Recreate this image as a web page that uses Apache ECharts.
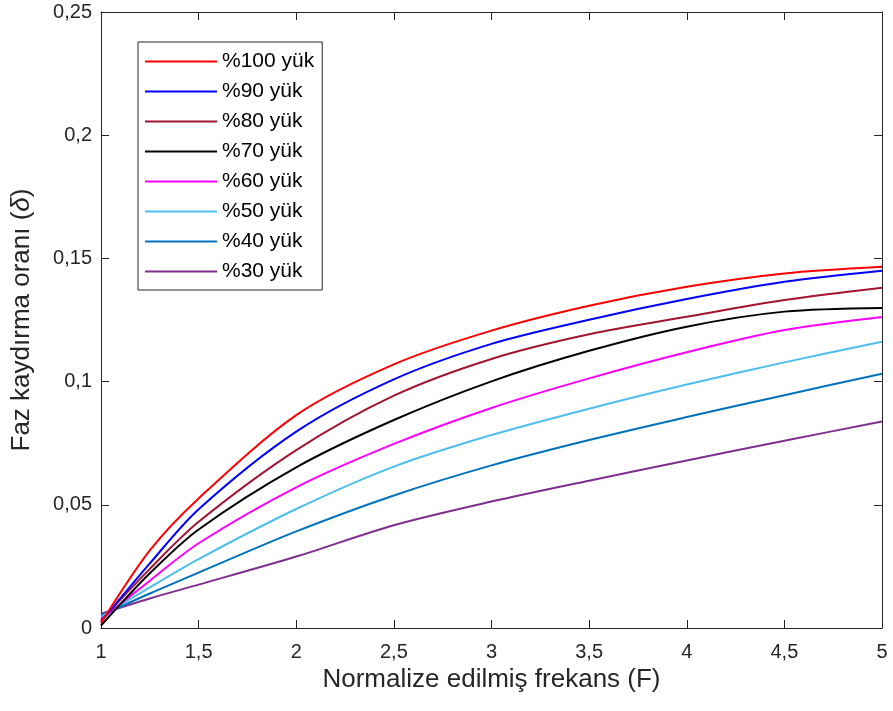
<!DOCTYPE html>
<html>
<head>
<meta charset="utf-8">
<script src="https://cdn.jsdelivr.net/npm/echarts@6/dist/echarts.min.js"></script>
<style>
  html, body { margin: 0; padding: 0; background: #fff; }
  #chart { width: 893px; height: 711px; }
</style>
</head>
<body>
<div id="chart"></div>
<script>
// Normalized frequency samples (F)
const freq = [1, 1.25, 1.5, 2, 2.5, 3, 3.5, 4, 4.5, 5];

// Phase-shift ratio (delta) for each load level
const load100 = [0.002, 0.0315, 0.0526, 0.0864, 0.1070, 0.1207, 0.1308, 0.1385, 0.1439, 0.1466];
const load90  = [0.0025, 0.0262, 0.0482, 0.0797, 0.1009, 0.1153, 0.1251, 0.1335, 0.1405, 0.1450];
const load80  = [0.003, 0.0240, 0.0431, 0.0722, 0.0943, 0.1092, 0.1192, 0.1263, 0.1331, 0.1381];
const load70  = [0.001, 0.0222, 0.0400, 0.0652, 0.0844, 0.1001, 0.1125, 0.1223, 0.1284, 0.1299];
const load60  = [0.0035, 0.0192, 0.0344, 0.0571, 0.0747, 0.0893, 0.1013, 0.1119, 0.1209, 0.1262];
const load50  = [0.0045, 0.0165, 0.0280, 0.0483, 0.0655, 0.0783, 0.0890, 0.0988, 0.1078, 0.1162];
const load40  = [0.005, 0.0140, 0.0225, 0.0392, 0.0538, 0.0660, 0.0763, 0.0856, 0.0945, 0.1032];
const load30  = [0.0058, 0.0120, 0.0176, 0.0290, 0.0417, 0.0513, 0.0598, 0.0680, 0.0760, 0.0838];

const seriesNames = ['%100 yük', '%90 yük', '%80 yük', '%70 yük', '%60 yük', '%50 yük', '%40 yük', '%30 yük'];
const seriesValues = [load100, load90, load80, load70, load60, load50, load40, load30];
const seriesColors = ['#FF0000', '#0000FF', '#A2142F', '#000000', '#FF00FF', '#4DBEEE', '#0072BD', '#7E2F8E'];

const FONT = '"Liberation Sans", Arial, sans-serif';
const AXIS_COLOR = '#262626';

const commaFmt = v => String(+v.toFixed(4)).replace('.', ',');

const chart = echarts.init(document.getElementById('chart'), null, { renderer: 'canvas' });

const series = seriesNames.map((name, i) => ({
  name: name,
  type: 'line',
  xAxisIndex: 0,
  yAxisIndex: 0,
  data: freq.map((f, j) => [f, seriesValues[i][j]]),
  smooth: 0.3,
  symbol: 'none',
  lineStyle: { color: seriesColors[i], width: 2 },
  itemStyle: { color: seriesColors[i] },
  z: 10 - i
}));

const commonX = {
  type: 'value', min: 1, max: 5, interval: 0.5,
  axisLine: { show: true, onZero: false, lineStyle: { color: AXIS_COLOR, width: 1 } },
  axisTick: { show: true, inside: true, length: 8, lineStyle: { color: AXIS_COLOR } },
  splitLine: { show: false }
};
const commonY = {
  type: 'value', min: 0, max: 0.25, interval: 0.05,
  axisLine: { show: true, onZero: false, lineStyle: { color: AXIS_COLOR, width: 1 } },
  axisTick: { show: true, inside: true, length: 8, lineStyle: { color: AXIS_COLOR } },
  splitLine: { show: false }
};

chart.setOption({
  animation: false,
  backgroundColor: '#ffffff',
  grid: { left: 101, right: 11, top: 12, bottom: 83, containLabel: false },
  legend: {
    orient: 'vertical',
    left: 138,
    top: 42,
    padding: [9, 8, 8, 7],
    icon: 'rect',
    itemWidth: 72,
    itemHeight: 2,
    itemGap: 9,
    backgroundColor: '#ffffff',
    borderColor: '#262626',
    borderWidth: 1,
    borderRadius: 0,
    data: seriesNames,
    textStyle: { fontFamily: FONT, fontSize: 21, lineHeight: 21, color: '#000000' }
  },
  xAxis: [
    Object.assign({}, commonX, {
      position: 'bottom',
      name: 'Normalize edilmiş frekans (F)',
      nameLocation: 'middle',
      nameGap: 30,
      nameTextStyle: { fontFamily: FONT, fontSize: 26, color: AXIS_COLOR },
      axisLabel: { show: true, margin: 14, fontFamily: FONT, fontSize: 20, color: AXIS_COLOR, formatter: commaFmt }
    }),
    Object.assign({}, commonX, { position: 'top', axisLabel: { show: false } })
  ],
  yAxis: [
    Object.assign({}, commonY, {
      position: 'left',
      name: 'Faz kaydırma oranı ({i|δ})',
      nameLocation: 'middle',
      nameGap: 66,
      nameTextStyle: {
        fontFamily: FONT, fontSize: 26, color: AXIS_COLOR,
        rich: { i: { fontFamily: FONT, fontSize: 26, fontStyle: 'italic', color: AXIS_COLOR } }
      },
      axisLabel: { show: true, margin: 9, fontFamily: FONT, fontSize: 20, color: AXIS_COLOR, formatter: commaFmt }
    }),
    Object.assign({}, commonY, { position: 'right', axisLabel: { show: false } })
  ],
  series: series
});
</script>
</body>
</html>
